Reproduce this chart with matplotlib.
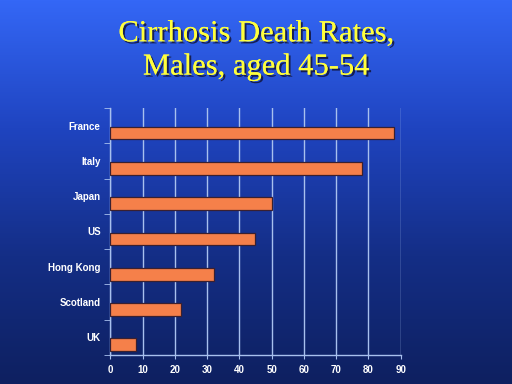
import matplotlib.pyplot as plt
import matplotlib.patheffects as pe
from matplotlib.colors import LinearSegmentedColormap
import numpy as np

countries = ['France', 'Italy', 'Japan', 'US', 'Hong Kong', 'Scotland', 'UK']
rates = [88, 78, 50, 45, 32, 22, 8]
xticks = [0, 10, 20, 30, 40, 50, 60, 70, 80, 90]

fig = plt.figure(figsize=(5.12, 3.84), dpi=100)

# background gradient
bg = fig.add_axes([0, 0, 1, 1], zorder=-10)
grad = np.linspace(0, 1, 256).reshape(-1, 1)
cmap = LinearSegmentedColormap.from_list('bg', ['#3467f6', '#1f44c0', '#142e86', '#0e2060'])
bg.imshow(grad, aspect='auto', cmap=cmap, extent=[0, 1, 0, 1])
bg.axis('off')

ax = fig.add_axes([0.2154, 0.0755, 0.5672, 0.6433])
ax.patch.set_alpha(0)

pos = np.arange(len(countries))
ax.barh(pos + 0.21, rates, height=0.36, color='#f5804a',
        edgecolor='#3a2030', linewidth=0.9, zorder=3)

ax.set_xlim(0, 90)
ax.set_ylim(len(countries) - 0.5, -0.5)
ax.set_xticks(xticks)
ax.set_xticklabels([str(t) for t in xticks])
ax.set_yticks(pos)
ax.set_yticklabels(countries)
ax.set_yticks(np.arange(-0.5, len(countries), 1), minor=True)

ax.grid(axis='x', color='#a8c0ee', linewidth=1.0, zorder=1)
for s in ['top', 'right']:
    ax.spines[s].set_visible(False)
for s in ['left', 'bottom']:
    ax.spines[s].set_color('#a8c0ee')
    ax.spines[s].set_linewidth(1.0)

ax.tick_params(axis='y', which='major', length=0, pad=7)
ax.tick_params(axis='y', which='minor', length=4, color='#a8c0ee', direction='out')
ax.tick_params(axis='x', length=3, color='#a8c0ee', direction='out', pad=4)
for lbl in ax.get_xticklabels() + ax.get_yticklabels():
    lbl.set_color('white')
    lbl.set_fontweight('bold')
    lbl.set_fontsize(7)
    lbl.set_family('Liberation Sans')

shadow = [pe.withSimplePatchShadow(offset=(1.5, -1.5), shadow_rgbFace='#101030', alpha=0.8), pe.Normal()]
fig.text(0.5, 0.912, 'Cirrhosis Death Rates,', ha='center', va='center',
         fontsize=22, color='#ffff3c', family='Liberation Serif', path_effects=shadow)
fig.text(0.5, 0.826, 'Males, aged 45-54', ha='center', va='center',
         fontsize=22, color='#ffff3c', family='Liberation Serif', path_effects=shadow)

fig.savefig('out.png', dpi=100)
